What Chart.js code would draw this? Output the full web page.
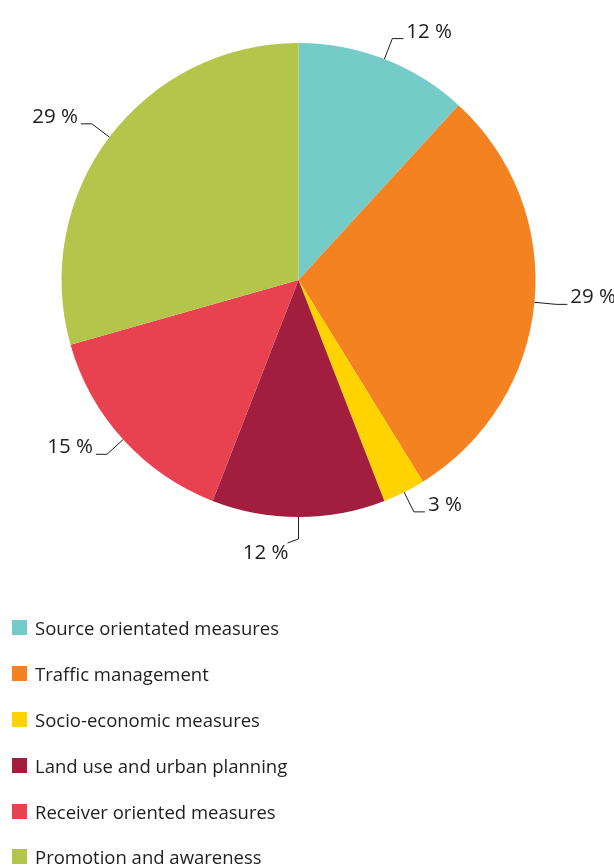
<!DOCTYPE html>
<html>
<head>
<meta charset="utf-8">
<script src="https://cdn.jsdelivr.net/npm/chart.js@4/dist/chart.umd.min.js"></script>
<style>
  html, body { margin: 0; padding: 0; background: #fff; }
  #wrap { position: relative; width: 614px; height: 866px; overflow: hidden; }
  #c { position: absolute; left: 0; top: 0; }
  #legend { position: absolute; left: 0; top: 0; width: 614px; height: 866px; font-family: "Open Sans", sans-serif; font-size: 18.5px; color: #1e1e1e; }
  .item { position: absolute; left: 12px; height: 24px; line-height: 24px; white-space: nowrap; }
  .sw { position: absolute; left: 0; top: 4px; width: 15px; height: 15px; }
  .lb { position: absolute; left: 23px; top: 0; }
</style>
</head>
<body>
<div id="wrap">
  <canvas id="c" width="614" height="866"></canvas>
  <div id="legend"></div>
</div>
<script>
const categories = [
  "Source orientated measures",
  "Traffic management",
  "Socio-economic measures",
  "Land use and urban planning",
  "Receiver oriented measures",
  "Promotion and awareness"
];
const shares = [11.8, 29.4, 2.9, 11.8, 14.7, 29.4];
const valueLabels = shares.map(v => Math.round(v) + " %");
const colors = ["#74CBC8", "#F58220", "#FFD300", "#A21E3F", "#E84251", "#B3C64B"];

const leaderPlugin = {
  id: 'leaders',
  afterDatasetsDraw(chart) {
    const ctx = chart.ctx;
    const meta = chart.getDatasetMeta(0);
    ctx.save();
    ctx.strokeStyle = '#1e1e1e';
    ctx.fillStyle = '#1e1e1e';
    ctx.lineWidth = 1;
    ctx.font = '20.5px "Open Sans", sans-serif';
    meta.data.forEach((arc, i) => {
      const p = arc.getProps(['x', 'y', 'startAngle', 'endAngle', 'outerRadius'], true);
      const a = (p.startAngle + p.endAngle) / 2;
      const c = Math.cos(a), s = Math.sin(a);
      const r = p.outerRadius;
      const x0 = p.x + r * c, y0 = p.y + r * s;
      const x1 = p.x + (r + 22) * c, y1 = p.y + (r + 22) * s;
      const bottom = Math.abs(c) < 0.15 && s > 0;
      const dir = bottom ? -1 : (c > 0 ? 1 : -1);
      const x2 = x1 + dir * 11, y2 = y1 + (bottom ? 4 : 0);
      ctx.beginPath();
      ctx.moveTo(x0, y0);
      ctx.lineTo(x1, y1);
      ctx.lineTo(x2, y2);
      ctx.stroke();
      ctx.textBaseline = 'alphabetic';
      if (bottom) {
        ctx.textAlign = 'right';
        ctx.fillText(valueLabels[i], x2 + 1, y2 + 16);
      } else if (dir > 0) {
        ctx.textAlign = 'left';
        ctx.fillText(valueLabels[i], x2 + 3, y2 - 1);
      } else {
        ctx.textAlign = 'right';
        ctx.fillText(valueLabels[i], x2 - 3, y2 - 1);
      }
    });
    ctx.restore();
  }
};

new Chart(document.getElementById('c'), {
  type: 'pie',
  data: {
    labels: categories,
    datasets: [{
      data: shares,
      backgroundColor: colors,
      borderWidth: 0,
      hoverOffset: 0
    }]
  },
  options: {
    responsive: false,
    animation: false,
    devicePixelRatio: 1,
    layout: { padding: { left: 61.5, right: 78.5, top: 43, bottom: 349 } },
    plugins: {
      legend: { display: false },
      tooltip: { enabled: false }
    }
  },
  plugins: [leaderPlugin]
});

const legend = document.getElementById('legend');
const rowCenters = [628, 674, 720, 766, 812, 857];
categories.forEach((name, i) => {
  const it = document.createElement('div');
  it.className = 'item';
  it.style.top = (rowCenters[i] - 12) + 'px';
  const sw = document.createElement('span');
  sw.className = 'sw';
  sw.style.background = colors[i];
  const lb = document.createElement('span');
  lb.className = 'lb';
  lb.textContent = name;
  it.appendChild(sw);
  it.appendChild(lb);
  legend.appendChild(it);
});
</script>
</body>
</html>
